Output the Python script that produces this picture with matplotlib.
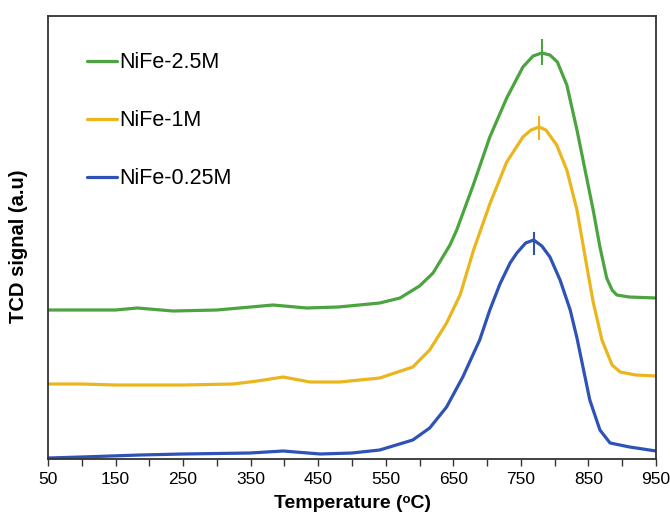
import numpy as np
import matplotlib
matplotlib.use("Agg")
import matplotlib.pyplot as plt
from matplotlib.ticker import MultipleLocator

plt.rcParams['font.family'] = ['Liberation Sans', 'DejaVu Sans']

# ---------- data (signal in arbitrary units) ----------
green_T = [50, 100, 150, 182, 235, 300, 350, 383, 433, 480, 541, 571, 600, 620, 645,
           655, 679, 704, 729, 753, 768, 781, 793, 804, 818, 833, 848, 857, 867, 877,
           885, 892, 910, 950]
green_S = [150, 150, 150, 152, 149, 150, 153, 155, 152, 153, 157, 162, 174, 187, 215,
           230, 274, 323, 362, 393, 404, 407, 405, 398, 375, 330, 280, 250, 213, 182,
           170, 165, 163, 162]

yellow_T = [50, 100, 150, 200, 250, 324, 360, 398, 438, 482, 541, 590, 615, 640, 660,
            680, 704, 729, 753, 765, 777, 787, 803, 818, 833, 848, 857, 870, 885, 897,
            920, 950]
yellow_S = [76, 76, 75, 75, 75, 76, 79, 83, 78, 78, 82, 93, 110, 137, 165,
            210, 256, 298, 323, 330, 333, 330, 315, 290, 250, 192, 158, 120, 95, 88,
            85, 84]

blue_T = [50, 100, 186, 250, 349, 398, 453, 500, 541, 590, 615, 640, 664, 689, 704,
          719, 734, 744, 757, 769, 781, 793, 808, 823, 833, 852, 867, 882, 911, 950]
blue_S = [2, 3, 5, 6, 7, 9, 6, 7, 10, 20, 32, 53, 83, 120, 150,
          176, 197, 207, 217, 220, 214, 203, 180, 150, 122, 60, 30, 17, 13, 9]

labels = ["NiFe-2.5M", "NiFe-1M", "NiFe-0.25M"]
colors = ["#4ba43f", "#ebb61d", "#2f52b6"]

# peak position markers (temperature, low, high)
peak_T = [781, 777, 769]
peak_lo = [396, 321, 206]
peak_hi = [420, 343, 227]

# ---------- plot ----------
fig = plt.figure(figsize=(6.7, 5.14), dpi=100)
ax = fig.add_axes([48 / 670, 55 / 514, 608 / 670, 443 / 514])

series = [(green_T, green_S), (yellow_T, yellow_S), (blue_T, blue_S)]
for (t, s), lab, c in zip(series, labels, colors):
    ax.plot(t, s, color=c, lw=2.3, label=lab, solid_joinstyle="round", solid_capstyle="round")

for t, lo, hi, c in zip(peak_T, peak_lo, peak_hi, colors):
    ax.plot([t, t], [lo, hi], color=c, lw=1.5)

ax.set_xlim(50, 950)
ax.set_ylim(1, 444)
ax.xaxis.set_minor_locator(MultipleLocator(50))
ax.set_xticks(np.arange(50, 951, 100))
ax.tick_params(axis="x", which="both", direction="out", length=5, width=1.0,
               color="#333333", labelsize=12.5, pad=4)
ax.set_yticks([])

for sp in ax.spines.values():
    sp.set_linewidth(1.3)
    sp.set_color("#333333")

ax.set_xlabel("Temperature (ᵒC)", fontsize=14, fontweight="bold", labelpad=6)
ax.set_ylabel("TCD signal (a.u)", fontsize=14.5, fontweight="bold")
ax.yaxis.set_label_coords(-0.033, 0.48)

ax.legend(loc="upper left", bbox_to_anchor=(0.064, 0.918), frameon=False,
          fontsize=15.5, handlelength=1.4, handletextpad=0.12, labelspacing=1.72,
          borderpad=0, borderaxespad=0)

fig.savefig("out.png", dpi=100)
